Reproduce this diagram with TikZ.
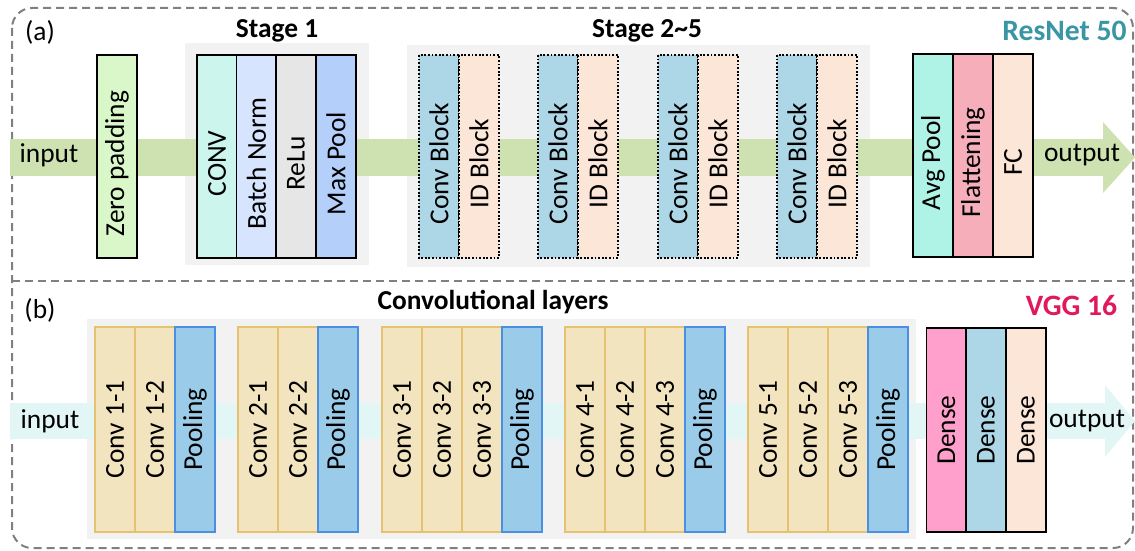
\documentclass[tikz,border=0pt]{standalone}
\usepackage{fontspec}
\setmainfont{Carlito}
\usetikzlibrary{positioning, calc}
\definecolor{BandGreen}{HTML}{CDE2B0}
\definecolor{BandCyan}{HTML}{E3F6F6}
\definecolor{StageGray}{HTML}{F2F2F2}
\definecolor{ZeroPad}{HTML}{D9F7C9}
\definecolor{ConvAqua}{HTML}{CCF5EE}
\definecolor{NormBlue}{HTML}{D6E4FD}
\definecolor{ReluGray}{HTML}{E6E6E6}
\definecolor{MaxBlue}{HTML}{B3CFFA}
\definecolor{BlockBlue}{HTML}{ADD7E6}
\definecolor{IdPeach}{HTML}{FBE6D8}
\definecolor{AvgMint}{HTML}{AFF2E6}
\definecolor{FlatPink}{HTML}{F7AEBB}
\definecolor{VggWheat}{HTML}{F3E4C0}
\definecolor{VggGold}{HTML}{E6C170}
\definecolor{PoolSky}{HTML}{9ACCEA}
\definecolor{PoolEdge}{HTML}{4A8FE0}
\definecolor{DenseRose}{HTML}{FF9FCB}
\definecolor{ResTeal}{HTML}{3A96A4}
\definecolor{VggMagenta}{HTML}{E0195F}
\definecolor{FrameGray}{HTML}{808080}

\begin{document}
\begin{tikzpicture}[x=0.5pt, y=-0.5pt,
    every node/.style={font=\fontsize{13.7}{16}\selectfont},
    layer/.style={draw=black, line width=0.9pt, rotate=90, inner sep=0pt,
                  minimum width=101.5pt, minimum height=20pt},
    reslayer/.style={layer, execute at end node={\hspace{7pt}}},
    dotlayer/.style={reslayer, dash pattern=on 0.9pt off 0.9pt},
    vggconv/.style={layer, draw=VggGold, fill=VggWheat, minimum width=102.5pt},
    vggpool/.style={layer, draw=PoolEdge, fill=PoolSky, minimum width=102.5pt},
    title/.style={font=\fontsize{13.7}{16}\selectfont\bfseries},
    netname/.style={font=\fontsize{14.8}{17}\selectfont\bfseries},
    frame/.style={draw=FrameGray, line width=1pt, dash pattern=on 4pt off 2.5pt}]
\useasboundingbox (0,0) rectangle (1135,551);

% outer frame
\draw[frame, rounded corners=10pt] (12,8) rectangle (1133,548);
\draw[frame] (12,281) -- (1133,281);

% ---------- (a) ResNet 50 ----------
\node (taga) at (40,32) {(a)};
\node[netname, text=ResTeal] (resname) at (1064.5,31) {ResNet 50};
\node[title] (st1) at (277,31) {Stage 1};
\node[title] (st25) at (647,31) {Stage 2\textasciitilde5};

\fill[StageGray] (185,43) rectangle (369,265);
\fill[StageGray] (407,45) rectangle (870,267);

\coordinate (ra) at (10,157.5);
\coordinate (rb) at (1103,157.5);
\fill[BandGreen] ($(ra)+(0,-18.5)$) rectangle ($(rb)+(0,18.5)$);
\fill[BandGreen] ($(rb)+(0,-35.5)$) -- (1135,157.5) -- ($(rb)+(0,35.5)$) -- cycle;
\node (inres) at (49,155) {input};
\node (outres) at (1082,155) {output};

\node[reslayer, fill=ZeroPad] (zpad) at (117,156.5) {Zero padding};

\node[reslayer, fill=ConvAqua] (conv) at (217,156.5) {CONV};
\node[reslayer, fill=NormBlue] (bnorm) at (256.5,156.5) {Batch Norm};
\node[reslayer, fill=ReluGray] (relu) at (296,156.5) {ReLu};
\node[reslayer, fill=MaxBlue] (mpool) at (336,156.5) {Max Pool};

\foreach \x [count=\i] in {419,538,658,777} {
  \node[dotlayer, fill=BlockBlue] (cb\i) at (\x+20,156.5) {Conv Block};
  \node[dotlayer, fill=IdPeach] (ib\i) at (\x+60,156.5) {ID Block};
}

\node[reslayer, fill=AvgMint] (apool) at (933,155.5) {Avg Pool};
\node[reslayer, fill=FlatPink] (flat) at (973,155.5) {Flattening};
\node[reslayer, fill=IdPeach] (fc) at (1013,155.5) {FC};

% ---------- (b) VGG 16 ----------
\node (tagb) at (40,310) {(b)};
\node[netname, text=VggMagenta] (vggname) at (1071.5,306) {VGG 16};
\node[title] (convlay) at (493,302) {Convolutional layers};

\fill[StageGray] (87,319) rectangle (916,539);

\coordinate (va) at (10,421);
\coordinate (vb) at (1105,421);
\fill[BandCyan] ($(va)+(0,-18)$) rectangle ($(vb)+(0,18)$);
\fill[BandCyan] ($(vb)+(0,-36)$) -- (1135,421) -- ($(vb)+(0,36)$) -- cycle;
\node (invgg) at (50,421) {input};
\node (outvgg) at (1087,421) {output};

\foreach \x/\g/\n in {95/1/2, 238/2/2, 382/3/3, 565/4/3, 748/5/3} {
  \foreach \k in {1,...,\n} {
    \node[vggconv] (c\g\k) at (\x+40*\k-20,429.5) {Conv \g-\k};
  }
  \node[vggpool] (p\g) at (\x+40*\n+20,429.5) {Pooling};
}

\node[layer, fill=DenseRose, minimum width=102pt] (dns1) at (946.5,430) {Dense};
\node[layer, fill=BlockBlue, minimum width=102pt] (dns2) at (986,430) {Dense};
\node[layer, fill=IdPeach, minimum width=102pt] (dns3) at (1026,430) {Dense};
\end{tikzpicture}
\end{document}
